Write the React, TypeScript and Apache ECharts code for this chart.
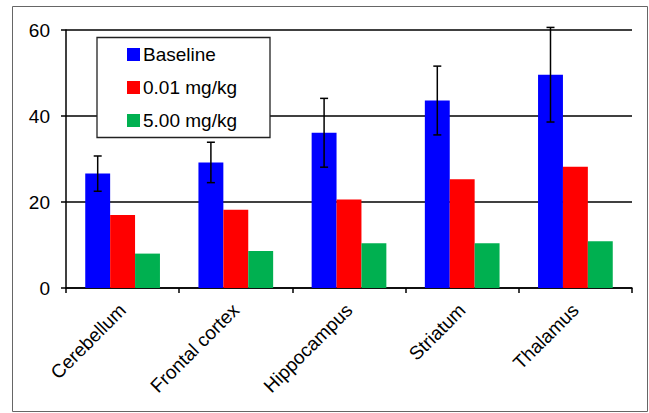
import React, { useEffect, useRef } from "react";
import * as echarts from "echarts";

const categories = ["Cerebellum", "Frontal cortex", "Hippocampus", "Striatum", "Thalamus"];
const seriesNames = ["Baseline", "0.01 mg/kg", "5.00 mg/kg"];
const baseline = [26.6, 29.2, 36.1, 43.6, 49.6];
const dose001 = [17.0, 18.2, 20.6, 25.3, 28.2];
const dose500 = [8.0, 8.6, 10.4, 10.4, 10.9];
const baselineErr = [4.1, 4.7, 8.0, 8.0, 11.0];
const yTicks = [0, 20, 40, 60];

const FONT = "Liberation Sans, Arial, sans-serif";
const GAP = 0.34;

export default function App() {
  const ref = useRef<HTMLDivElement>(null);
  useEffect(() => {
    if (!ref.current) return;
    const chart = echarts.init(ref.current, null, { renderer: "svg" });
    const errData = baseline.map((v, i) => [i, v + baselineErr[i], v - baselineErr[i]]);
    chart.setOption({
      animation: false,
      backgroundColor: "#fff",
      textStyle: { fontFamily: FONT },
      grid: { left: 66, right: 17, top: 30, bottom: 125 },
      graphic: [
        {
          type: "rect",
          shape: { x: 12.5, y: 6.5, width: 635, height: 405 },
          style: { fill: "none", stroke: "#666", lineWidth: 1 },
          z: 0,
        },
        {
          type: "rect",
          shape: { x: 97, y: 37.5, width: 173, height: 100 },
          style: { fill: "#fff", stroke: "#222", lineWidth: 1.3 },
          z: 10,
        },
      ],
      legend: {
        data: seriesNames,
        orient: "vertical",
        left: 127,
        top: 45,
        padding: 0,
        itemGap: 14,
        itemWidth: 13,
        itemHeight: 13,
        icon: "rect",
        itemStyle: { borderWidth: 0 },
        textStyle: { fontSize: 19, color: "#000", fontFamily: FONT, padding: [0, 0, 0, -2] },
        z: 11,
      },
      xAxis: {
        type: "category",
        data: categories,
        axisLine: { lineStyle: { color: "#000", width: 1.5 } },
        axisTick: { show: true, length: 5, lineStyle: { color: "#000", width: 1.5 } },
        axisLabel: { rotate: 45, fontSize: 19, color: "#000", margin: 19, fontFamily: FONT },
      },
      yAxis: {
        type: "value",
        min: yTicks[0],
        max: yTicks[yTicks.length - 1],
        interval: 20,
        axisLine: { show: true, lineStyle: { color: "#000", width: 1.5 } },
        axisTick: { show: true, length: 5, lineStyle: { color: "#000", width: 1.5 } },
        axisLabel: { fontSize: 19, color: "#000", margin: 16, fontFamily: FONT },
        splitLine: { show: true, lineStyle: { color: "#000", width: 1.5 } },
      },
      series: [
        { name: seriesNames[0], type: "bar", data: baseline, itemStyle: { color: "#0000FF" }, barGap: "0%", barCategoryGap: GAP * 100 + "%" },
        { name: seriesNames[1], type: "bar", data: dose001, itemStyle: { color: "#FF0000" } },
        { name: seriesNames[2], type: "bar", data: dose500, itemStyle: { color: "#00B050" } },
        {
          type: "custom",
          name: "err",
          data: errData,
          encode: { x: 0, y: [1, 2] },
          z: 5,
          renderItem: (params: any, api: any) => {
            const idx = api.value(0);
            const pHi = api.coord([idx, api.value(1)]);
            const pLo = api.coord([idx, api.value(2)]);
            const band = api.size([1, 0])[0];
            const cx = pHi[0] - (band * (1 - GAP)) / 3;
            const cap = 4;
            const style = { stroke: "#000", lineWidth: 1.5 };
            return {
              type: "group",
              children: [
                { type: "line", shape: { x1: cx, y1: pHi[1], x2: cx, y2: pLo[1] }, style },
                { type: "line", shape: { x1: cx - cap, y1: pHi[1], x2: cx + cap, y2: pHi[1] }, style },
                { type: "line", shape: { x1: cx - cap, y1: pLo[1], x2: cx + cap, y2: pLo[1] }, style },
              ],
            };
          },
        },
      ],
    });
    return () => chart.dispose();
  }, []);
  return <div ref={ref} style={{ position: "fixed", left: 0, top: 0, width: 649, height: 413 }} />;
}
